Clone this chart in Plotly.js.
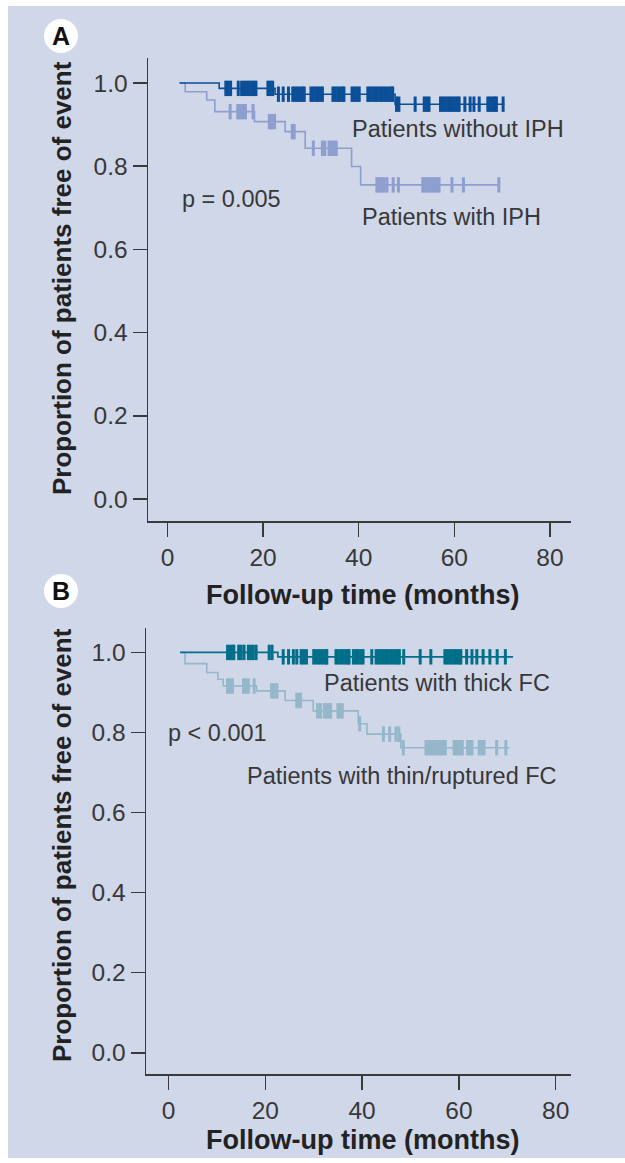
<!DOCTYPE html>
<html><head><meta charset="utf-8">
<script src="https://cdn.plot.ly/plotly-3.0.1.min.js"></script>
<style>html,body{margin:0;padding:0;background:#fff}#chart{width:625px;height:1163px}</style>
</head><body><div id="chart"></div>
<script>
// ---------- tick labels ----------
const xTickVals = [0, 20, 40, 60, 80];
const yTickVals = [0, 0.2, 0.4, 0.6, 0.8, 1.0];
const yTickText = ["0.0", "0.2", "0.4", "0.6", "0.8", "1.0"];

// ---------- Panel A : Patients without IPH ----------
const noIphStepT = [2.5, 10.8, 22.5, 47.6, 70.5];
const noIphStepS = [1.0, 0.987, 0.973, 0.949, 0.949];
const noIphCens = [12.2, 12.7, 13.2, 14.8, 15.5, 16.1, 16.6, 17.1, 17.6, 18.1, 18.5, 21.0, 21.5, 22.0,
  23.2, 24.2, 25.3, 26.2, 26.7, 27.2, 27.7, 28.2, 28.6, 30.0, 30.5, 31.0, 31.5, 32.0, 32.4,
  34.6, 35.1, 35.6, 36.1, 36.6, 36.9, 38.6, 39.1, 39.6, 40.1, 41.9, 42.4, 42.9, 43.4, 43.9, 44.4,
  44.9, 45.4, 45.9, 46.4, 46.9, 47.1,
  47.9, 48.4, 51.8, 53.7, 54.2, 54.7, 57.1, 57.6, 58.1, 58.6, 59.1, 59.6, 60.1, 60.6, 61.0,
  62.2, 63.3, 64.1, 65.2, 67.0, 67.5, 68.0, 68.5, 68.8, 70.2];

// ---------- Panel A : Patients with IPH ----------
const iphStepT = [2.5, 3.7, 8.2, 9.9, 18.2, 24.6, 28.8, 38.5, 40.4, 69.4];
const iphStepS = [1.0, 0.979, 0.959, 0.931, 0.907, 0.883, 0.843, 0.799, 0.755, 0.755];
const iphCens = [13.1, 14.7, 15.2, 15.7, 16.3, 17.9, 21.3, 21.8, 22.4, 26.1, 26.5,
  30.5, 32.4, 32.9, 33.8, 34.3, 34.8, 35.3,
  43.8, 44.3, 44.8, 45.3, 45.9, 47.2, 48.3, 53.4, 53.9, 54.4, 54.9, 55.4, 55.9, 56.4, 56.8,
  59.5, 61.9, 69.3];

// ---------- Panel B : Patients with thick FC ----------
const thickStepT = [2.4, 22.6, 71.2];
const thickStepS = [1.0, 0.989, 0.989];
const thickCens = [12.2, 12.7, 13.2, 13.5, 14.5, 15.0, 15.6, 16.5, 17.0, 17.5, 18.1, 20.8, 21.4,
  23.7, 24.8, 25.8, 26.5, 27.4, 27.9, 28.5, 30.0, 30.5, 31.0, 31.5, 32.0, 32.5, 32.7,
  34.6, 35.1, 35.6, 36.1, 36.6, 37.1, 37.3, 38.2, 38.7, 39.2, 39.7, 40.2, 42.0,
  42.9, 43.4, 43.9, 44.4, 44.9, 45.4, 45.9, 46.4, 46.9, 47.4, 47.7, 48.6, 52.0, 54.2,
  57.1, 57.6, 58.1, 58.6, 59.1, 59.6, 60.1, 60.4, 61.6, 62.7, 63.7, 65.0, 66.4, 67.9, 69.6];

// ---------- Panel B : Patients with thin/ruptured FC ----------
const thinStepT = [2.4, 3.4, 7.9, 10.2, 11.3, 18.2, 24.1, 29.9, 39.2, 41.0, 48.0, 70.4];
const thinStepS = [1.0, 0.972, 0.95, 0.933, 0.916, 0.904, 0.88, 0.854, 0.822, 0.796, 0.762, 0.762];
const thinCens = [12.2, 12.7, 13.2, 15.5, 16.0, 16.5, 17.7, 21.3, 21.8, 22.4, 26.5, 27.0, 27.3,
  30.8, 31.4, 32.2, 32.7, 33.2, 33.5, 35.0, 35.5, 35.9, 39.5, 44.4, 45.7, 47.0, 47.6,
  48.5, 53.2, 53.7, 54.2, 54.7, 55.2, 55.7, 56.2, 56.7, 57.2, 59.0, 59.5, 60.0, 60.5, 60.7,
  61.8, 62.3, 62.7, 64.2, 64.7, 65.2, 67.8, 69.7];

// ---------- styles ----------
const W = 625, H = 1163;
const px = x => x / W;
const py = y => 1 - y / H;
const FONT = "Liberation Sans, Arial, Helvetica, sans-serif";
const TXT = "#383838";

function survAt(t, T, S) {
  let v = S[0];
  for (let i = 0; i < T.length; i++) if (T[i] <= t) v = S[i];
  return v;
}
function curve(T, S, cens, color, xa, ya) {
  return [
    {x: T, y: S, type: "scatter", mode: "lines", line: {shape: "hv", color: color, width: 1.6},
     xaxis: xa, yaxis: ya, hoverinfo: "skip", showlegend: false},
    {x: cens, y: cens.map(t => survAt(t, T, S)), type: "scatter", mode: "markers",
     marker: {symbol: "line-ns", size: 11, line: {color: color, width: 3}},
     xaxis: xa, yaxis: ya, hoverinfo: "skip", showlegend: false}
  ];
}

const cA1 = "#0b4f98", cA2 = "#8e9ecf", cB1 = "#006f8a", cB2 = "#94b7c9";

const data = [
  ...curve(iphStepT, iphStepS, iphCens, cA2, "x", "y"),
  ...curve(noIphStepT, noIphStepS, noIphCens, cA1, "x", "y"),
  ...curve(thinStepT, thinStepS, thinCens, cB2, "x2", "y2"),
  ...curve(thickStepT, thickStepS, thickCens, cB1, "x2", "y2")
];

function xaxis(range, dom, anchor) {
  return {range: range, domain: dom, anchor: anchor, tickvals: xTickVals, ticks: "outside", ticklen: 14,
    tickwidth: 1.5, tickcolor: "#3a3a3a", showline: true, linecolor: "#3a3a3a", linewidth: 1.5,
    showgrid: false, zeroline: false, tickfont: {family: FONT, size: 24.5, color: TXT}, fixedrange: true};
}
function yaxis(range, dom, anchor) {
  return {range: range, domain: dom, anchor: anchor, tickvals: yTickVals, ticktext: yTickText, ticks: "outside",
    ticklen: 14, tickwidth: 1.5, tickcolor: "#3a3a3a", showline: true, linecolor: "#3a3a3a", linewidth: 1.5,
    showgrid: false, zeroline: false, tickfont: {family: FONT, size: 24.5, color: TXT}, fixedrange: true};
}

function ann(text, x, y, opts) {
  return Object.assign({text: text, x: px(x), y: py(y), xref: "paper", yref: "paper", showarrow: false,
    xanchor: "left", yanchor: "middle", font: {family: FONT, size: 23.5, color: TXT}}, opts || {});
}
const boldX = {family: FONT, size: 27, color: "#222"};
const boldY = {family: FONT, size: 26, color: "#222"};

const layout = {
  width: W, height: H, margin: {l: 0, r: 0, t: 0, b: 0},
  paper_bgcolor: "#ffffff", plot_bgcolor: "#ffffff",
  xaxis: xaxis([-4.08, 84.4], [px(148), px(571)], "y"),
  yaxis: yaxis([-0.053, 1.06], [py(521), py(58)], "x"),
  xaxis2: xaxis([-4.65, 83.16], [px(146), px(571)], "y2"),
  yaxis2: yaxis([-0.053, 1.061], [py(1074), py(628)], "x2"),
  shapes: [
    {type: "rect", xref: "paper", yref: "paper", x0: px(8), x1: 1, y0: py(1158), y1: py(6),
     fillcolor: "#d0d7e8", line: {width: 0}, layer: "below"},
    {type: "circle", xref: "paper", yref: "paper", x0: px(44), x1: px(78), y0: py(53), y1: py(19),
     fillcolor: "#ffffff", line: {width: 0}},
    {type: "circle", xref: "paper", yref: "paper", x0: px(44), x1: px(78), y0: py(608), y1: py(574),
     fillcolor: "#ffffff", line: {width: 0}}
  ],
  annotations: [
    ann("<b>A</b>", 61, 36, {xanchor: "center", font: {family: FONT, size: 25, color: "#111"}}),
    ann("<b>B</b>", 61, 591, {xanchor: "center", font: {family: FONT, size: 25, color: "#111"}}),
    ann("Patients without IPH", 350, 129),
    ann("Patients with IPH", 360, 217),
    ann("p = 0.005", 180, 199),
    ann("Patients with thick FC", 322, 683),
    ann("p < 0.001", 166, 733),
    ann("Patients with thin/ruptured FC", 245, 776),
    ann("<b>Follow-up time (months)</b>", 362, 595, {xanchor: "center", font: boldX}),
    ann("<b>Follow-up time (months)</b>", 362, 1140, {xanchor: "center", font: boldX}),
    ann("<b>Proportion of patients free of event</b>", 62, 278, {xanchor: "center", textangle: -90, font: boldY}),
    ann("<b>Proportion of patients free of event</b>", 62, 845, {xanchor: "center", textangle: -90, font: boldY})
  ]
};

Plotly.newPlot("chart", data, layout, {staticPlot: true, displayModeBar: false});
</script>
</body></html>
